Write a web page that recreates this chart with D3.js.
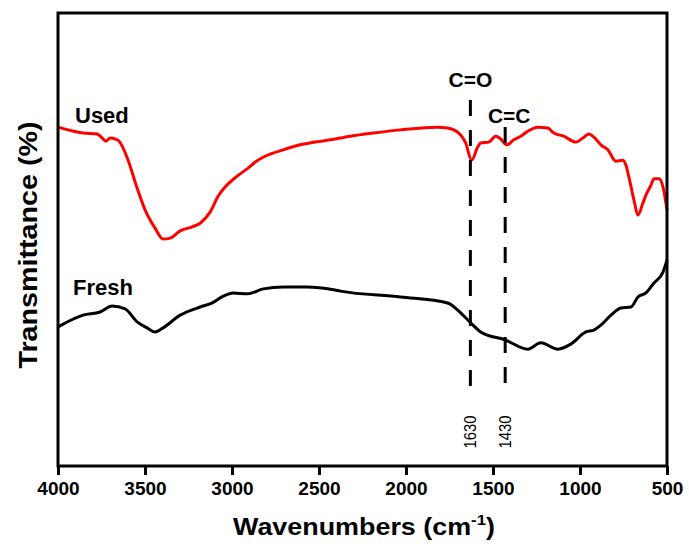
<!DOCTYPE html>
<html>
<head>
<meta charset="utf-8">
<script src="https://cdn.jsdelivr.net/npm/d3@7.9.0/dist/d3.min.js"></script>
<style>
  body { margin: 0; background: #fff; }
  svg { display: block; font-family: "Liberation Sans", Arial, sans-serif; }
</style>
</head>
<body>
<svg id="chart" width="689" height="550"></svg>
<script>
// FTIR spectra (wavenumber in cm-1, transmittance in arbitrary %)
const usedWn = [4000, 3856, 3775, 3741, 3724, 3701, 3655, 3597, 3551, 3499, 3442, 3396, 3355, 3298, 3229, 3183, 3125, 3079, 3039, 2970, 2906, 2866, 2797, 2705, 2607, 2434, 2319, 2187, 2031, 1818, 1761, 1703, 1657, 1623, 1588, 1571, 1525, 1484, 1456, 1421, 1381, 1340, 1300, 1243, 1185, 1151, 1093, 1024, 984, 949, 920, 880, 840, 794, 754, 736, 719, 690, 667, 638, 621, 592, 575, 546, 523, 500];
const usedT  = [74.8, 73.5, 73.3, 72.2, 71.7, 72.4, 71.9, 67.5, 62.0, 56.5, 52.5, 50.1, 50.3, 51.9, 52.8, 53.6, 56.1, 59.6, 61.6, 64.0, 65.8, 67.1, 68.6, 69.8, 70.9, 72.0, 72.8, 73.5, 74.2, 74.8, 74.6, 73.7, 71.3, 67.5, 70.4, 71.3, 71.5, 72.8, 72.2, 70.9, 72.0, 72.8, 73.9, 74.8, 74.6, 73.5, 72.8, 71.5, 72.4, 73.3, 72.6, 70.9, 69.8, 67.3, 67.5, 66.4, 63.8, 58.7, 55.4, 58.1, 59.8, 62.0, 63.4, 63.4, 61.6, 56.5];

const freshWn = [4000, 3856, 3758, 3689, 3614, 3545, 3488, 3442, 3396, 3298, 3183, 3113, 3050, 2993, 2912, 2820, 2705, 2567, 2417, 2377, 2031, 1761, 1686, 1628, 1571, 1427, 1300, 1225, 1127, 1053, 966, 920, 880, 822, 765, 707, 667, 621, 575, 523, 500];
const freshT  = [30.7, 33.3, 34.0, 35.3, 34.7, 31.8, 30.5, 29.6, 30.5, 33.3, 35.1, 36.0, 37.5, 38.2, 38.0, 39.1, 39.5, 39.5, 38.9, 38.6, 37.3, 36.0, 33.8, 31.6, 29.6, 27.8, 25.8, 27.2, 25.8, 26.9, 29.6, 30.0, 31.1, 33.3, 34.9, 35.1, 37.3, 38.2, 40.4, 42.8, 45.5];

// Marked bands
const peakWn = [1630, 1430];
const peakNames = ['C=O', 'C=C'];

const xTicks = [4000, 3500, 3000, 2500, 2000, 1500, 1000, 500];

// Layout
const width = 689, height = 550;
const margin = { top: 13, right: 22, bottom: 84, left: 58 };
const innerW = width - margin.left - margin.right;
const innerH = height - margin.top - margin.bottom;

let svg = d3.select('#chart');
let g = svg.append('g').attr('transform', `translate(${margin.left},${margin.top})`);

let x = d3.scaleLinear().domain([4000, 500]).range([0, innerW]);
let y = d3.scaleLinear().domain([0, 100]).range([innerH, 0]);

let line = d3.line()
  .x((d) => x(d[0]))
  .y((d) => y(d[1]))
  .curve(d3.curveMonotoneX);

// Spectra
g.append('path')
  .datum(d3.zip(freshWn, freshT))
  .attr('d', line)
  .attr('fill', 'none')
  .attr('stroke', '#000')
  .attr('stroke-width', 3)
  .attr('stroke-linejoin', 'round');

g.append('path')
  .datum(d3.zip(usedWn, usedT))
  .attr('d', line)
  .attr('fill', 'none')
  .attr('stroke', '#ff0000')
  .attr('stroke-width', 3)
  .attr('stroke-linejoin', 'round');

// Dashed markers with labels
let dashTop = [87, 114];   // pixel tops inside plot for each marker
let dashBottom = 377;
peakWn.forEach((wn, i) => {
  g.append('line')
    .attr('x1', x(wn)).attr('x2', x(wn))
    .attr('y1', dashTop[i]).attr('y2', dashBottom)
    .attr('stroke', '#000')
    .attr('stroke-width', 3)
    .attr('stroke-dasharray', '16,14');

  g.append('text')
    .attr('x', x(wn) + (i === 0 ? 0 : 4))
    .attr('y', i === 0 ? 74 : 110)
    .attr('text-anchor', 'middle')
    .attr('font-size', 21)
    .attr('font-weight', 'bold')
    .text(peakNames[i]);

  g.append('text')
    .attr('transform', `translate(${x(wn) + 6},${419})rotate(-90)`)
    .attr('text-anchor', 'middle')
    .attr('font-size', 17)
    .attr('textLength', 33).attr('lengthAdjust', 'spacingAndGlyphs')
    .text(wn);
});

// Series labels
g.append('text')
  .attr('x', 17).attr('y', 110)
  .attr('font-size', 22).attr('font-weight', 'bold')
  .text('Used');

g.append('text')
  .attr('x', 15).attr('y', 282)
  .attr('font-size', 22).attr('font-weight', 'bold')
  .text('Fresh');

// Frame
g.append('rect')
  .attr('width', innerW).attr('height', innerH)
  .attr('fill', 'none')
  .attr('stroke', '#000')
  .attr('stroke-width', 3);

// X axis
let xAxis = g.append('g')
  .attr('transform', `translate(0,${innerH})`)
  .call(d3.axisBottom(x).tickValues(xTicks).tickSize(9).tickPadding(7).tickFormat(d3.format('d')));
xAxis.select('.domain').remove();
xAxis.selectAll('line').attr('stroke-width', 3);
xAxis.selectAll('text')
  .attr('font-size', 19)
  .attr('font-weight', 'bold')
  .attr('font-family', '"Liberation Sans", Arial, sans-serif')
  .attr('fill', '#000');

// Axis titles
let xTitle = svg.append('text')
  .attr('x', 364).attr('y', 535)
  .attr('text-anchor', 'middle')
  .attr('font-size', 24).attr('font-weight', 'bold')
  .attr('textLength', 262).attr('lengthAdjust', 'spacingAndGlyphs');
xTitle.append('tspan').text('Wavenumbers (cm');
xTitle.append('tspan').attr('font-size', 15).attr('dy', -10).text('-1');
xTitle.append('tspan').attr('dy', 10).text(')');

svg.append('text')
  .attr('transform', 'translate(37,245)rotate(-90)')
  .attr('text-anchor', 'middle')
  .attr('font-size', 25).attr('font-weight', 'bold')
  .attr('textLength', 247).attr('lengthAdjust', 'spacingAndGlyphs')
  .text('Transmittance (%)');
</script>
</body>
</html>
